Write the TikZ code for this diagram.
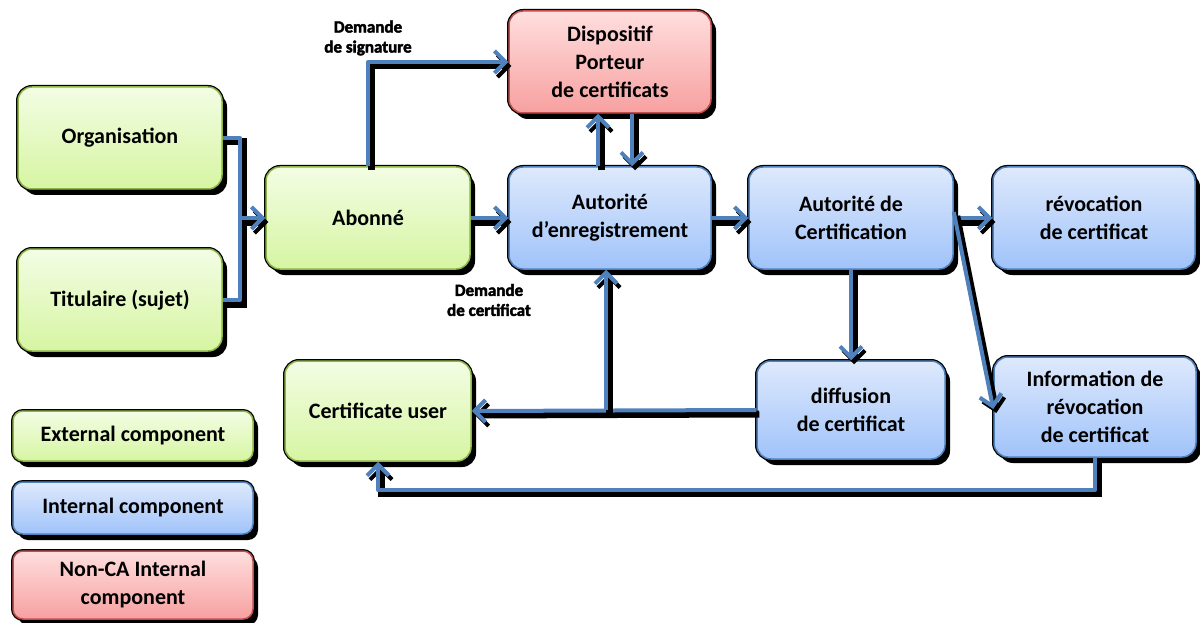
\documentclass[tikz,border=0pt]{standalone}
\usepackage{fontspec}
\setmainfont{Carlito}
\newfontfamily\heavyfont[FakeBold=2.5]{Carlito}
\usetikzlibrary{arrows.meta,shadows,calc}
\definecolor{cblue}{RGB}{79,129,189}
\definecolor{gtop}{RGB}{243,253,228}
\definecolor{gbot}{RGB}{214,245,162}
\definecolor{gborder}{RGB}{140,180,70}
\definecolor{btop}{RGB}{222,233,252}
\definecolor{bbot}{RGB}{160,195,250}
\definecolor{bborder}{RGB}{79,129,189}
\definecolor{rtop}{RGB}{255,222,222}
\definecolor{rbot}{RGB}{247,160,160}
\definecolor{rborder}{RGB}{192,80,77}
\begin{document}
\begin{tikzpicture}[x=1pt,y=-1pt,
  box/.style={rectangle, rounded corners=14pt, align=center,
    font=\fontsize{22}{28}\selectfont\bfseries, inner sep=2pt,
    drop shadow={shadow xshift=5pt, shadow yshift=-6pt, fill=black, opacity=1},
    preaction={draw=black, line width=4pt}, line width=1.5pt},
  ext/.style={box, draw=gborder, top color=gtop, bottom color=gbot},
  int/.style={box, draw=bborder, top color=btop, bottom color=bbot},
  nca/.style={box, draw=rborder, top color=rtop, bottom color=rbot},
  leg/.style={rounded corners=10pt},
  conn/.style={line width=4pt, draw=cblue, line join=round,
    preaction={draw=black, line width=7pt, transform canvas={shift={(3pt,-4pt)}}}},
  arr/.style={conn, -{Straight Barb[length=11pt,width=22pt,line width=4pt]}},
  lbl/.style={font=\fontsize{17}{20}\selectfont\heavyfont\bfseries, align=center, inner sep=0pt}
]
\useasboundingbox (0,0) rectangle (1200,623);

\node[ext, minimum width=204, minimum height=102] (org) at (120,138) {Organisation};
\node[ext, minimum width=204, minimum height=102] (tit) at (120,300) {Titulaire (sujet)};
\node[ext, minimum width=204, minimum height=102] (abo) at (368,218) {Abonné};
\node[nca, minimum width=202, minimum height=102] (disp) at (610,62) {Dispositif\\Porteur\\de certificats};
\node[int, minimum width=202, minimum height=102] (ae) at (610,218) {Autorité\\d’enregistrement};
\node[int, minimum width=204, minimum height=102] (ac) at (851,218) {Autorité de\\Certification};
\node[int, minimum width=202, minimum height=102] (rev) at (1094,218) {révocation\\de certificat};
\node[ext, minimum width=186, minimum height=100] (cu) at (378,411) {Certificate user};
\node[int, minimum width=188, minimum height=98] (diff) at (851,410) {diffusion\\de certificat};
\node[int, minimum width=202, minimum height=100] (info) at (1095,407) {Information de\\révocation\\de certificat};

\node[ext, leg, minimum width=240, minimum height=50] (l1) at (133,436) {External component};
\node[int, leg, minimum width=240, minimum height=52] (l2) at (133,508) {Internal component};
\node[nca, leg, minimum width=240, minimum height=68] (l3) at (133,585) {Non-CA Internal\\component};

\node[lbl] (ls) at (368,38) {Demande\\de signature};
\node[lbl] (lc) at (489,300) {Demande\\de certificat};

\coordinate (j1) at (240,218);
\coordinate (j2) at (606,410);

\draw[conn] (org.east) -| (j1) |- (tit.east);
\draw[arr] (j1) -- (abo.west);
\draw[arr] (abo.north) |- (disp.west);
\draw[arr] (abo.east) -- (ae.west);
\draw[arr] ([xshift=-12]ae.north) -- ([xshift=-12]disp.south);
\draw[arr] ([xshift=22]disp.south) -- ([xshift=22]ae.north);
\draw[arr] (ae.east) -- (ac.west);
\draw[arr] (ac.east) -- (rev.west);
\draw[arr] ([yshift=6]ac.east) -- ([yshift=-2]info.west);
\draw[arr] (ac.south) -- (diff.north);
\draw[arr] (diff.west) -- (cu.east);
\draw[arr] (j2) -- (ae.south -| j2);
\draw[arr] (info.south) -- ++(0,32) -| (cu.south);
\end{tikzpicture}
\end{document}
